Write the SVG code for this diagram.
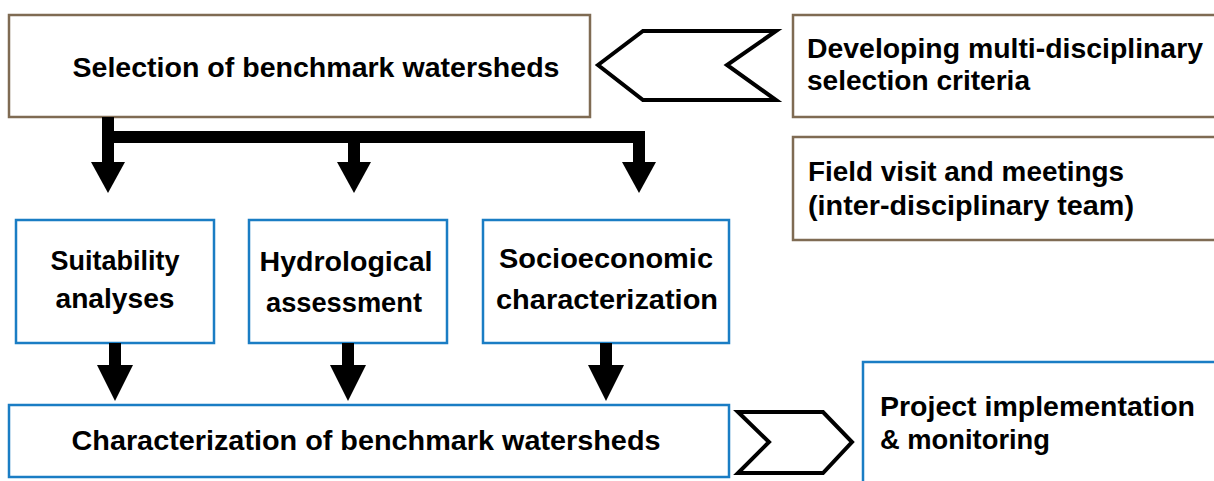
<svg xmlns="http://www.w3.org/2000/svg" width="1214" height="481" viewBox="0 0 1214 481">
<style>
.bx{fill:#fff;stroke:#7f6b53;stroke-width:2.5}
.bl{fill:#fff;stroke:#1a7dc4;stroke-width:2.5}
.t{font-family:"Liberation Sans",Arial,sans-serif;font-weight:bold;font-size:28px;fill:#000}
.m{text-anchor:middle}
.chev{fill:#fff;stroke:#000;stroke-width:4;stroke-linejoin:miter}
.ln{fill:none;stroke:#000;stroke-width:12}
.hd{fill:#000}
</style>
<rect width="1214" height="481" fill="#fff"/>
<g id="selection">
<rect class="bx" x="9" y="15" width="581" height="102"/>
<text class="t m" x="316" y="77" textLength="487" lengthAdjust="spacingAndGlyphs">Selection of benchmark watersheds</text>
</g>
<g id="criteria">
<rect class="bx" x="793" y="15" width="425" height="102"/>
<text class="t" x="807" y="58" textLength="396" lengthAdjust="spacingAndGlyphs">Developing multi-disciplinary</text>
<text class="t" x="807" y="90" textLength="223" lengthAdjust="spacingAndGlyphs">selection criteria</text>
</g>
<g id="fieldvisit">
<rect class="bx" x="793" y="137" width="425" height="103"/>
<text class="t" x="808" y="181" textLength="316" lengthAdjust="spacingAndGlyphs">Field visit and meetings</text>
<text class="t" x="808" y="215" textLength="326" lengthAdjust="spacingAndGlyphs">(inter-disciplinary team)</text>
</g>
<g id="suitability">
<rect class="bl" x="16" y="220" width="198" height="123"/>
<text class="t m" x="115" y="270" textLength="129" lengthAdjust="spacingAndGlyphs">Suitability</text>
<text class="t m" x="115" y="308" textLength="119" lengthAdjust="spacingAndGlyphs">analyses</text>
</g>
<g id="hydrological">
<rect class="bl" x="249" y="220" width="198" height="123"/>
<text class="t m" x="346" y="271" textLength="173" lengthAdjust="spacingAndGlyphs">Hydrological</text>
<text class="t m" x="344" y="312" textLength="156" lengthAdjust="spacingAndGlyphs">assessment</text>
</g>
<g id="socioeconomic">
<rect class="bl" x="483" y="220" width="246" height="123"/>
<text class="t m" x="606" y="268" textLength="214" lengthAdjust="spacingAndGlyphs">Socioeconomic</text>
<text class="t m" x="607" y="309" textLength="222" lengthAdjust="spacingAndGlyphs">characterization</text>
</g>
<g id="characterization">
<rect class="bl" x="9" y="405" width="720" height="72"/>
<text class="t m" x="366" y="450" textLength="589" lengthAdjust="spacingAndGlyphs">Characterization of benchmark watersheds</text>
</g>
<g id="project">
<rect class="bl" x="863" y="362" width="360" height="130"/>
<text class="t" x="880" y="416" textLength="315" lengthAdjust="spacingAndGlyphs">Project implementation</text>
<text class="t" x="880" y="449" textLength="170" lengthAdjust="spacingAndGlyphs">&amp; monitoring</text>
</g>
<g id="connectors">
<polygon class="chev" points="598,65 643,31 776,31 727,65 776,100 643,100"/>
<polygon class="chev" points="738,412 823,412 852,442 823,473 738,473 769,442"/>
<path class="ln" d="M108,117 V163 M102,137 H645 M639,131 V163 M354,137 V163"/>
<polygon class="hd" points="91,162 125,162 108,193"/>
<polygon class="hd" points="337,162 371,162 354,193"/>
<polygon class="hd" points="622,162 656,162 639,193"/>
<path class="ln" d="M115,343 V366 M348,343 V366 M606,343 V366"/>
<polygon class="hd" points="97,365 133,365 115,401"/>
<polygon class="hd" points="330,365 366,365 348,401"/>
<polygon class="hd" points="588,365 624,365 606,401"/>
</g>
</svg>
